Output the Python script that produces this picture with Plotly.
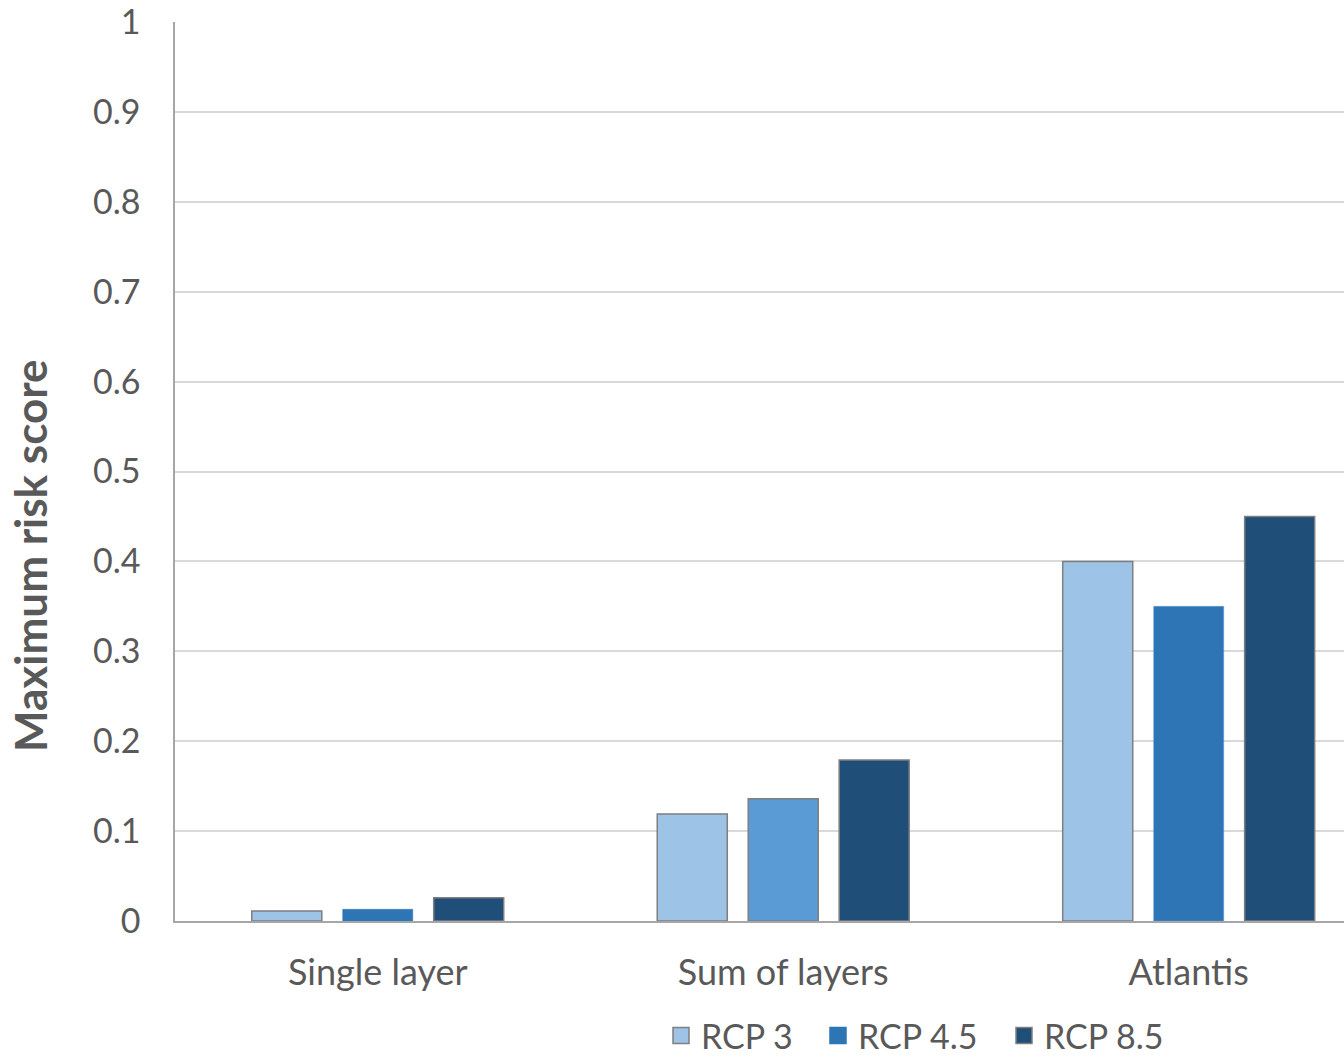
import plotly.graph_objects as go

# Model approaches and the maximum risk score under each emissions scenario
categories = ["Single layer", "Sum of layers", "Atlantis"]
scenarios = ["RCP 3", "RCP 4.5", "RCP 8.5"]
rcp3 = [0.011, 0.119, 0.40]
rcp45 = [0.013, 0.136, 0.35]
rcp85 = [0.026, 0.179, 0.45]
y_ticks = [0, 0.1, 0.2, 0.3, 0.4, 0.5, 0.6, 0.7, 0.8, 0.9, 1]
y_tick_text = ["0", "0.1", "0.2", "0.3", "0.4", "0.5", "0.6", "0.7", "0.8", "0.9", "1"]

FONT = "Lato, Open Sans, sans-serif"
TEXT = "#595959"
OUTLINE = "#7f7f7f"

series = [
    (scenarios[0], rcp3, ["#9dc3e6"] * 3, [OUTLINE] * 3, [1.5] * 3, "#9dc3e6", OUTLINE),
    (scenarios[1], rcp45, ["#2e75b6", "#5b9bd5", "#2e75b6"],
     ["#2e75b6", OUTLINE, "#5b9bd5"], [0.5, 1.5, 0.5], "#2e75b6", "#2e75b6"),
    (scenarios[2], rcp85, ["#1f4e79"] * 3, [OUTLINE] * 3, [1.5] * 3, "#1f4e79", OUTLINE),
]

# each legend entry sits in its own legend box so the spacing can be set freely
legend_ids = ["legend", "legend2", "legend3"]
legend_x = [661, 818, 1004]

fig = go.Figure()
for (name, vals, fills, lines, widths, key_fill, key_line), lid in zip(series, legend_ids):
    fig.add_trace(go.Bar(
        name=name, x=categories, y=vals, showlegend=False,
        marker=dict(color=fills, line=dict(color=lines, width=widths)),
    ))
    fig.add_trace(go.Scatter(
        name=name, x=[None], y=[None], mode="markers", legend=lid,
        marker=dict(symbol="square", size=20, color=key_fill,
                    line=dict(color=key_line, width=1.5)),
    ))

W, H = 1344, 1057
legend_common = dict(
    orientation="h", xref="container", xanchor="left",
    yref="container", y=21 / H, yanchor="middle",
    font=dict(size=34, color=TEXT), bgcolor="rgba(0,0,0,0)",
)

fig.update_layout(
    width=W, height=H,
    margin=dict(l=175, r=0, t=22, b=136),
    paper_bgcolor="white", plot_bgcolor="white",
    barmode="group", bargap=0.327, bargroupgap=0.23,
    font=dict(family=FONT, color=TEXT, size=34),
    showlegend=True,
    legend=dict(x=legend_x[0] / W, **legend_common),
    legend2=dict(x=legend_x[1] / W, **legend_common),
    legend3=dict(x=legend_x[2] / W, **legend_common),
    xaxis=dict(
        range=[-0.5, 2.383], showgrid=False, showline=True,
        linecolor="#a6a6a6", linewidth=2, ticks="",
        tickfont=dict(size=36, color=TEXT), ticklabelstandoff=19,
    ),
    yaxis=dict(
        range=[0, 1], tickvals=y_ticks, ticktext=y_tick_text,
        showgrid=True, gridcolor="#d9d9d9", gridwidth=1.5,
        showline=True, linecolor="#a6a6a6", linewidth=1.5,
        zeroline=False, ticks="", ticklabelstandoff=26,
        ticklabeloverflow="allow",
        tickfont=dict(size=34, color=TEXT),
    ),
    annotations=[dict(
        text="<b>Maximum risk score</b>", textangle=-90,
        xref="paper", x=-145 / 1169, xanchor="center",
        yref="paper", y=(921 - 556) / 899, yanchor="middle",
        showarrow=False, font=dict(size=44, color=TEXT),
    )],
)

fig.write_html("out.html")
